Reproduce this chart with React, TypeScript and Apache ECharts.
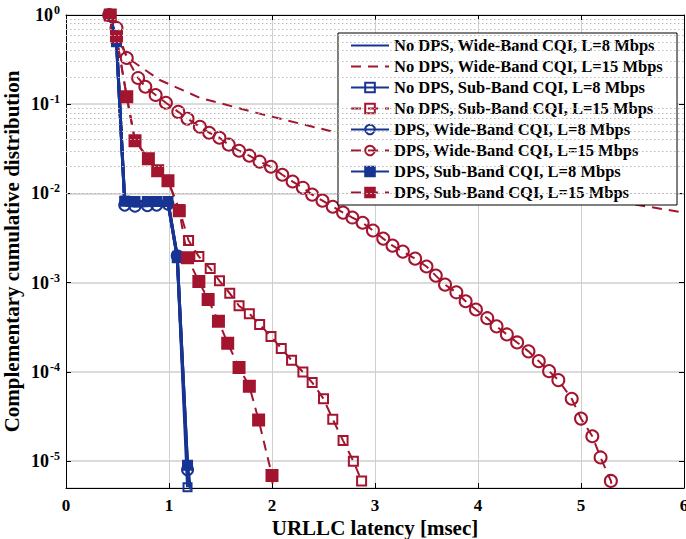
import React, { useEffect, useRef } from "react";
import * as echarts from "echarts";

// ---------- data ----------
const seriesNames = [
  "No DPS, Wide-Band CQI, L=8 Mbps",
  "No DPS, Wide-Band CQI, L=15 Mbps",
  "No DPS, Sub-Band CQI, L=8 Mbps",
  "No DPS, Sub-Band CQI, L=15 Mbps",
  "DPS, Wide-Band CQI, L=8 Mbps",
  "DPS, Wide-Band CQI, L=15 Mbps",
  "DPS, Sub-Band CQI, L=8 Mbps",
  "DPS, Sub-Band CQI, L=15 Mbps",
];

const noDpsWb8 = [
  [0.42, 1], [0.49, 0.5], [0.57, 8.1e-3], [0.99, 8.1e-3], [1.08, 1.9e-3], [1.18, 9e-6], [1.25, 2e-6],
];
const noDpsWb15 = [
  [0.42, 1], [0.5, 0.55], [0.6, 0.33], [0.74, 0.255], [0.91, 0.187], [1.3, 0.118], [1.85, 0.08],
  [2.63, 0.048], [5.09, 9.1e-3], [6, 6.1e-3],
];
const noDpsSb8 = [
  [0.42, 1], [0.49, 0.52], [0.57, 8.3e-3], [0.67, 8.2e-3], [0.79, 8.2e-3], [0.88, 8.2e-3],
  [0.99, 8.2e-3], [1.08, 2e-3], [1.18, 5.1e-6],
];
const noDpsSb15 = [
  [0.43, 1], [0.49, 0.57], [0.59, 0.121], [0.67, 0.039], [0.8, 0.0245], [0.89, 0.018], [0.99, 0.0139],
  [1.1, 6.6e-3], [1.19, 2.97e-3], [1.29, 1.96e-3], [1.4, 1.44e-3], [1.49, 1.05e-3], [1.59, 7.6e-4],
  [1.68, 5.5e-4], [1.78, 4.5e-4], [1.88, 3.4e-4], [1.99, 2.5e-4], [2.09, 1.83e-4], [2.19, 1.35e-4],
  [2.3, 1.0e-4], [2.39, 7.6e-5], [2.5, 5.0e-5], [2.59, 2.95e-5], [2.69, 1.7e-5], [2.79, 1.0e-5],
  [2.87, 6.0e-6],
];
const dpsWb8 = [
  [0.42, 1], [0.49, 0.55], [0.57, 7.4e-3], [0.67, 7.2e-3], [0.79, 7.3e-3], [0.88, 7.4e-3],
  [0.99, 7.6e-3], [1.08, 2e-3], [1.18, 8e-6],
];
const dpsWb15 = [
  [0.42, 1], [0.49, 0.716], [0.59, 0.33], [0.7, 0.197], [0.77, 0.157], [0.87, 0.127], [0.97, 0.104],
  [1.09, 0.082], [1.18, 0.0687], [1.3, 0.0559], [1.39, 0.0479], [1.49, 0.0421], [1.58, 0.0352],
  [1.68, 0.0301], [1.78, 0.0265], [1.88, 0.0227], [1.99, 0.0199], [2.1, 0.0162], [2.2, 0.0136],
  [2.3, 0.0116], [2.39, 9.7e-3], [2.49, 8.3e-3], [2.59, 7.1e-3], [2.69, 6.1e-3], [2.78, 5.37e-3],
  [2.88, 4.7e-3], [2.98, 3.84e-3], [3.08, 3.12e-3], [3.17, 2.6e-3], [3.27, 2.23e-3], [3.39, 1.86e-3],
  [3.5, 1.52e-3], [3.59, 1.2e-3], [3.68, 9.5e-4], [3.79, 7.8e-4], [3.88, 6.2e-4], [3.98, 5.0e-4],
  [4.09, 4.0e-4], [4.18, 3.24e-4], [4.28, 2.63e-4], [4.38, 2.14e-4], [4.49, 1.7e-4], [4.59, 1.32e-4],
  [4.69, 1.02e-4], [4.78, 8.1e-5], [4.91, 5.0e-5], [5.0, 3.0e-5], [5.11, 1.9e-5], [5.19, 1.1e-5],
  [5.29, 6.0e-6], [5.34, 3e-6],
];
const dpsSb8 = [
  [0.42, 1], [0.49, 0.5], [0.57, 8.2e-3], [0.67, 8.1e-3], [0.79, 8.1e-3], [0.88, 8.1e-3],
  [0.99, 8.1e-3], [1.08, 1.9e-3], [1.18, 9e-6],
];
const dpsSb15 = [
  [0.43, 1], [0.49, 0.57], [0.59, 0.121], [0.67, 0.039], [0.8, 0.0245], [0.89, 0.018], [0.99, 0.0139],
  [1.1, 6.4e-3], [1.18, 1.9e-3], [1.29, 1.03e-3], [1.38, 6.5e-4], [1.48, 3.7e-4], [1.57, 2.1e-4],
  [1.68, 1.12e-4], [1.78, 6.9e-5], [1.87, 2.9e-5], [2.0, 6.9e-6], [2.02, 3e-6],
];

const xMin = 0;
const xMax = 6;
const yMin = 5e-6;
const yMax = 1;
const minorMultipliers = [2, 3, 4, 5, 6, 7, 8, 9];
const minorDecades = [-6, -5, -4, -3, -2, -1];

// ---------- style ----------
const BLUE = "#183493";
const RED = "#a3142f";
const FONT = "Liberation Serif";

export default function App() {
  const ref = useRef<HTMLDivElement>(null);

  useEffect(() => {
    if (!ref.current) return;
    const chart = echarts.init(ref.current, undefined, { renderer: "svg" });

    const minorVals: number[] = [];
    minorDecades.forEach((d) =>
      minorMultipliers.forEach((m) => {
        const v = m * Math.pow(10, d);
        if (v > yMin && v < yMax) minorVals.push(v);
      })
    );

    const mk = (
      name: string,
      data: number[][],
      color: string,
      dashed: boolean,
      symbol: string,
      filled: boolean,
      size: number,
      z: number
    ) => {
      const none = symbol === "none";
      return {
        name,
        type: "line",
        data,
        z,
        clip: true,
        symbol,
        showSymbol: !none,
        symbolSize: size,
        lineStyle: { color, width: dashed ? 2 : 3, type: dashed ? [10, 7] : "solid" },
        itemStyle: none
          ? { color: "rgba(0,0,0,0)", borderColor: "rgba(0,0,0,0)", borderWidth: 0 }
          : {
              color: filled ? color : "rgba(255,255,255,0)",
              borderColor: color,
              borderWidth: 2,
            },
        emphasis: { disabled: true },
      };
    };

    const yFormatter = (v: number) => {
      const e = Math.log10(v);
      const r = Math.round(e);
      if (Math.abs(e - r) > 1e-6) return "";
      return `{b|10}{s|${r}}`;
    };

    chart.setOption({
      animation: false,
      backgroundColor: "#fff",
      grid: { left: 66, right: 2, top: 15, bottom: 51, containLabel: false, outerBoundsMode: "none" },
      xAxis: [
        {
          type: "value",
          min: xMin,
          max: xMax,
          interval: 1,
          name: "URLLC latency [msec]",
          nameLocation: "middle",
          nameGap: 29,
          nameMoveOverlap: false,
          nameTextStyle: { fontFamily: FONT, fontWeight: "bold", fontSize: 21, color: "#000", verticalAlign: "top" },
          axisLine: { show: true, onZero: false, lineStyle: { color: "#000", width: 1 } },
          axisTick: { show: true, inside: true, length: 5, lineStyle: { color: "#000" } },
          axisLabel: { fontFamily: FONT, fontWeight: "bold", fontSize: 17, color: "#000", margin: 9 },
          splitLine: { show: true, lineStyle: { color: "#cfcfcf", width: 1 } },
        },
        {
          type: "value",
          position: "top",
          min: xMin,
          max: xMax,
          interval: 1,
          axisLine: { show: true, onZero: false, lineStyle: { color: "#000", width: 1 } },
          axisTick: { show: true, inside: true, length: 5, lineStyle: { color: "#000" } },
          axisLabel: { show: false },
          splitLine: { show: false },
        },
      ],
      yAxis: [
        {
          type: "log",
          logBase: 10,
          min: yMin,
          max: yMax,
          name: "Complementary cumulative distribution",
          nameLocation: "middle",
          nameGap: 44,
          nameMoveOverlap: false,
          nameTextStyle: { fontFamily: FONT, fontWeight: "bold", fontSize: 21, color: "#000", verticalAlign: "bottom" },
          axisLine: { show: true, onZero: false, lineStyle: { color: "#000", width: 1 } },
          axisTick: { show: true, inside: true, length: 5, lineStyle: { color: "#000" } },
          axisLabel: {
            formatter: yFormatter,
            margin: 6,
            rich: {
              b: { fontFamily: FONT, fontWeight: "bold", fontSize: 18, color: "#000" },
              s: { fontFamily: FONT, fontWeight: "bold", fontSize: 12, color: "#000", padding: [0, 0, 10, 1] },
            },
          },
          splitLine: { show: true, lineStyle: { color: "#cfcfcf", width: 1.5 } },
        },
        {
          type: "log",
          logBase: 10,
          min: yMin,
          max: yMax,
          position: "right",
          axisLine: { show: true, onZero: false, lineStyle: { color: "#000", width: 1 } },
          axisTick: { show: true, inside: true, length: 5, lineStyle: { color: "#000" } },
          axisLabel: { show: false },
          splitLine: { show: false },
        },
      ],
      legend: {
        data: seriesNames,
        orient: "vertical",
        left: 338,
        top: 33,
        padding: [4, 14, 4, 12],
        itemGap: 4,
        itemWidth: 38,
        itemHeight: 12,
        backgroundColor: "#fff",
        borderColor: "#000",
        borderWidth: 1,
        borderRadius: 0,
        selectedMode: false,
        textStyle: { fontFamily: FONT, fontWeight: "bold", fontSize: 16.5, color: "#000" },
      },
      series: [
        {
          type: "line",
          data: [],
          z: 1,
          silent: true,
          markLine: {
            silent: true,
            symbol: "none",
            label: { show: false },
            lineStyle: { color: "#bdbdbd", width: 1, type: [1.5, 2.5] },
            data: minorVals.map((v) => ({ yAxis: v })),
          },
        },
        mk(seriesNames[0], noDpsWb8, BLUE, false, "none", false, 0, 3),
        mk(seriesNames[1], noDpsWb15, RED, true, "none", false, 0, 3),
        mk(seriesNames[2], noDpsSb8, BLUE, false, "rect", false, 8, 3),
        mk(seriesNames[3], noDpsSb15, RED, true, "rect", false, 9, 3),
        mk(seriesNames[4], dpsWb8, BLUE, false, "circle", false, 11, 3),
        mk(seriesNames[5], dpsWb15, RED, true, "circle", false, 12, 3),
        mk(seriesNames[6], dpsSb8, BLUE, false, "rect", true, 9, 3),
        mk(seriesNames[7], dpsSb15, RED, true, "rect", true, 11, 3),
      ],
    });

    return () => chart.dispose();
  }, []);

  return <div ref={ref} style={{ width: 686, height: 539, position: "absolute", left: 0, top: 0 }} />;
}
